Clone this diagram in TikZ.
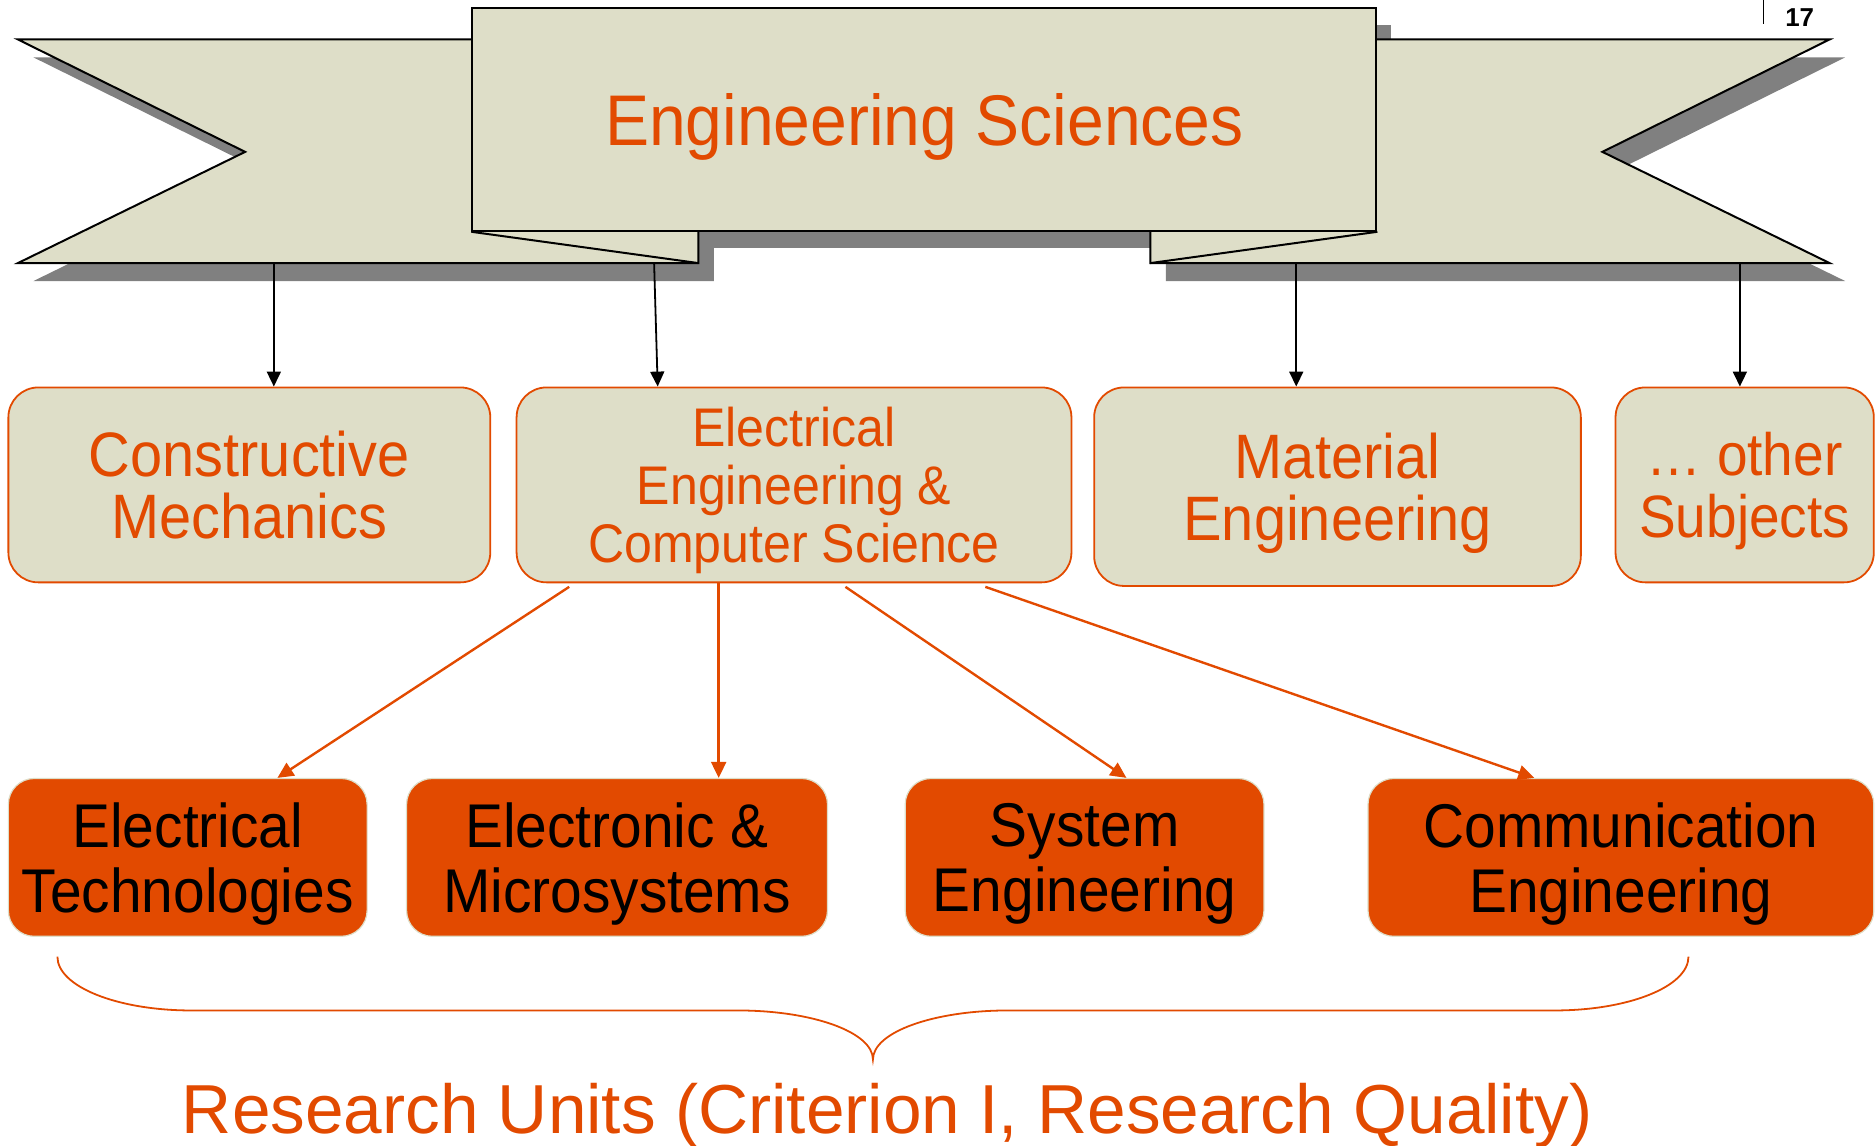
\documentclass[tikz,border=0pt]{standalone}
\usepackage{fontspec}
\setmainfont{Liberation Sans}
\newfontfamily\nar{Liberation Sans}[FakeStretch=0.92]
\usetikzlibrary{arrows.meta,calc}
\definecolor{eorange}{RGB}{226,74,0}
\definecolor{ebeige}{RGB}{222,222,200}
\definecolor{eshadow}{RGB}{128,128,128}
\begin{document}
\begin{tikzpicture}[x=0.6pt,y=-0.6pt,
  topbox/.style={draw=eorange, line width=0.9pt, fill=ebeige, rounded corners=15pt, align=center, text=eorange, inner sep=0pt, text depth=0pt},
  botbox/.style={draw=ebeige, line width=0.6pt, fill=eorange, rounded corners=13pt, align=center, text=black, inner sep=0pt, text depth=0pt, minimum height=79.2pt, font=\nar\fontsize{31}{32.4}\selectfont},
  blk/.style={line width=0.9pt, -{Triangle[length=7.5pt,width=7pt]}},
  org/.style={draw=eorange, line width=1.2pt, -{Triangle[length=8pt,width=7.5pt]}},
  ribbon/.style={fill=ebeige, draw=black, line width=1pt, line join=miter},
  shade/.style={fill=eshadow}
]
\useasboundingbox (0,0) rectangle (1568,958);

% shadows
\fill[shade] (407,21) rectangle (1163,207);
\fill[shade] (28,48) -- (597,48) -- (597,235) -- (28,235) -- (218,142) -- cycle;
\fill[shade] (975,48) -- (1543,48) -- (1353,142) -- (1543,235) -- (975,235) -- cycle;

% ribbons
\filldraw[ribbon] (15,33) -- (584,33) -- (584,220) -- (15,220) -- (205,127) -- cycle;
\filldraw[ribbon] (962,33) -- (1530,33) -- (1340,127) -- (1530,220) -- (962,220) -- cycle;

% central panel
\node[draw=black, line width=1pt, fill=ebeige, minimum width=453.6pt, minimum height=111.6pt, inner sep=0pt, text depth=0pt, text=eorange, font=\nar\fontsize{36}{40}\selectfont] (title) at (773,100) {Engineering Sciences};
\coordinate (foldL) at (584,220);
\coordinate (foldR) at (962,220);
\draw[line width=1pt] (title.south west) -- (foldL);
\draw[line width=1pt] (title.south east) -- (foldR);

% page number
\node[font=\bfseries\fontsize{13}{15}\selectfont, inner sep=0pt, anchor=base] (pg) at (1505,22) {17};
\draw[line width=0.6pt] (1475,0) -- (1475,20);

% top row
\node[topbox, minimum width=241.8pt, minimum height=97.8pt, font=\nar\fontsize{31.5}{31.2}\selectfont] (cm) at (208.5,405.5) {Constructive\\Mechanics};
\node[topbox, minimum width=278.4pt, minimum height=97.8pt, font=\nar\fontsize{27.3}{29.1}\selectfont] (ee) at (664,405.5) {Electrical\\Engineering \&\\Computer Science};
\node[topbox, minimum width=244.2pt, minimum height=99.6pt, font=\nar\fontsize{31.5}{31.2}\selectfont] (me) at (1118.5,407) {Material\\Engineering};
\node[topbox, minimum width=129.6pt, minimum height=97.8pt, font=\nar\fontsize{30}{31.2}\selectfont] (os) at (1459,405.5) {… other\\Subjects};

% bottom row
\node[botbox, minimum width=180pt] (et) at (157,717) {Electrical\\Technologies};
\node[botbox, minimum width=211.2pt] (em) at (516,717) {Electronic \&\\Microsystems};
\node[botbox, minimum width=180pt] (se) at (907,717) {System\\Engineering};
\node[botbox, minimum width=253.8pt] (ce) at (1355.5,717) {Communication\\Engineering};

% black arrows from ribbon
\coordinate (r1) at (229,220);
\coordinate (r2) at (547,220);
\coordinate (r3) at (1084,220);
\coordinate (r4) at (1455,220);
\draw[blk] (r1) -- (r1 |- cm.north);
\draw[blk] (r2) -- ($(ee.north)+(-114,0)$);
\draw[blk] (r3) -- (r3 |- me.north);
\draw[blk] (r4) -- (r4 |- os.north);

% orange arrows
\draw[org] ($(ee.south)+(-188,3)$) -- ($(et.north)+(75,0)$);
\draw[org] ($(ee.south)+(-63,0)$) -- ($(em.north)+(85,0)$);
\draw[org] ($(ee.south)+(43,3)$) -- ($(se.north)+(35,0)$);
\draw[org] ($(ee.south)+(160,3)$) -- ($(ce.north)+(-72.5,0)$);

% brace
\draw[eorange, line width=0.9pt] (48,800) .. controls (48,825) and (98,845) .. (160,845) -- (617,845) .. controls (679,845) and (730,863) .. (730,886) .. controls (730,863) and (781,845) .. (843,845) -- (1300,845) .. controls (1362,845) and (1412,825) .. (1412,800);

\node[anchor=base, text=eorange, font=\fontsize{34.8}{40}\selectfont, inner sep=0pt] (ru) at (742,948) {Research Units (Criterion I, Research Quality)};
\end{tikzpicture}
\end{document}
